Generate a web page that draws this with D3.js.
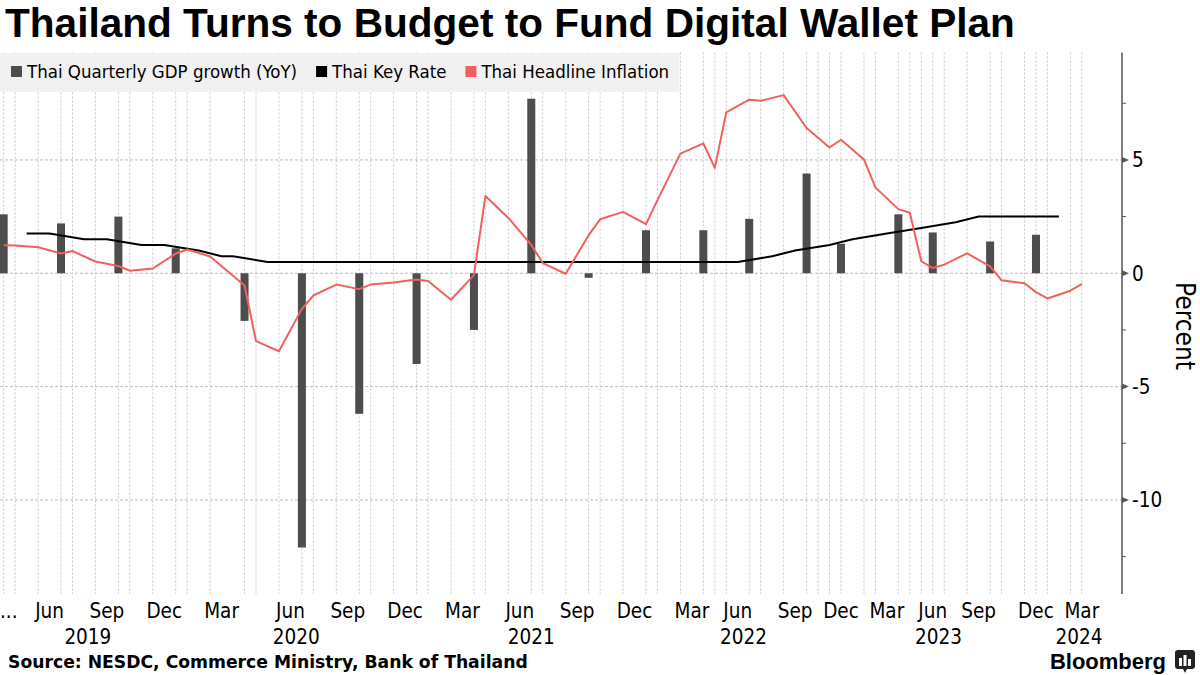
<!DOCTYPE html>
<html>
<head>
<meta charset="utf-8">
<script src="https://cdn.jsdelivr.net/npm/d3@7"></script>
<style>
    body { margin: 0; background: #fff; }
    svg { display: block; }
</style>
</head>
<body>
<svg id="chart" width="1200" height="675"></svg>
<script>
// Thai headline inflation, YoY %, one reading per month (dated at month end)
const cpiMonths = [
    "2019-03", "2019-04", "2019-05", "2019-06", "2019-07", "2019-08", "2019-09", "2019-10", "2019-11", "2019-12",
    "2020-01", "2020-02", "2020-03", "2020-04", "2020-05", "2020-06", "2020-07", "2020-08", "2020-09", "2020-10", "2020-11", "2020-12",
    "2021-01", "2021-02", "2021-03", "2021-04", "2021-05", "2021-06", "2021-07", "2021-08", "2021-09", "2021-10", "2021-11", "2021-12",
    "2022-01", "2022-02", "2022-03", "2022-04", "2022-05", "2022-06", "2022-07", "2022-08", "2022-09", "2022-10", "2022-11", "2022-12",
    "2023-01", "2023-02", "2023-03", "2023-04", "2023-05", "2023-06", "2023-07", "2023-08", "2023-09", "2023-10", "2023-11", "2023-12",
    "2024-01", "2024-02", "2024-03"
];
const cpiValues = [
    1.24, 1.23, 1.15, 0.87, 0.98, 0.52, 0.32, 0.11, 0.21, 0.87,
    1.05, 0.74, -0.54, -2.99, -3.44, -1.57, -0.98, -0.50, -0.70, -0.50, -0.41, -0.27,
    -0.34, -1.17, -0.08, 3.41, 2.44, 1.25, 0.45, -0.02, 1.68, 2.38, 2.71, 2.17,
    3.23, 5.28, 5.73, 4.65, 7.10, 7.66, 7.61, 7.86, 6.41, 5.98, 5.55, 5.89,
    5.02, 3.79, 2.83, 2.67, 0.53, 0.23, 0.38, 0.88, 0.30, -0.31, -0.44, -0.83,
    -1.11, -0.77, -0.47
];

// quarterly GDP growth, YoY %
const gdpQuarters = [
    "2019-03", "2019-06", "2019-09", "2019-12", "2020-03", "2020-06", "2020-09", "2020-12",
    "2021-03", "2021-06", "2021-09", "2021-12", "2022-03", "2022-06", "2022-09", "2022-12",
    "2023-03", "2023-06", "2023-09", "2023-12"
];
const gdpValues = [
    2.6, 2.2, 2.5, 1.1, -2.1, -12.1, -6.2, -4.0,
    -2.5, 7.7, -0.2, 1.9, 1.9, 2.4, 4.4, 1.3,
    2.6, 1.8, 1.4, 1.7
];

// policy rate at each MPC decision
const rateDates = [
    "2019-05-08", "2019-06-26", "2019-08-07", "2019-09-25", "2019-11-06", "2019-12-18",
    "2020-02-05", "2020-03-20", "2020-03-25", "2020-05-20", "2020-06-24", "2020-08-05", "2020-09-23", "2020-11-04", "2020-12-23",
    "2021-02-03", "2021-03-24", "2021-05-05", "2021-06-23", "2021-08-04", "2021-09-29", "2021-11-10", "2021-12-22",
    "2022-02-09", "2022-03-30", "2022-06-08", "2022-08-10", "2022-09-28", "2022-11-30",
    "2023-01-25", "2023-03-29", "2023-05-31", "2023-08-02", "2023-09-27", "2023-11-29",
    "2024-02-07"
];
const rateValues = [
    1.75, 1.75, 1.5, 1.5, 1.25, 1.25,
    1.0, 0.75, 0.75, 0.5, 0.5, 0.5, 0.5, 0.5, 0.5,
    0.5, 0.5, 0.5, 0.5, 0.5, 0.5, 0.5, 0.5,
    0.5, 0.5, 0.5, 0.75, 1.0, 1.25,
    1.5, 1.75, 2.0, 2.25, 2.5, 2.5,
    2.5
];

const tickMonths = [
    "2019-06", "2019-09", "2019-12", "2020-03", "2020-06", "2020-09", "2020-12",
    "2021-03", "2021-06", "2021-09", "2021-12", "2022-03", "2022-06", "2022-09", "2022-12",
    "2023-03", "2023-06", "2023-09", "2023-12", "2024-03"
];
const yearLabels = ["2019", "2020", "2021", "2022", "2023", "2024"];
const yTicks = [5, 0, -5, -10];
const yMinorTicks = [7.5, 2.5, -2.5, -7.5, -12.5];
const legendLabels = ["Thai Quarterly GDP growth (YoY)", "Thai Key Rate", "Thai Headline Inflation"];

const parseMonth = d3.utcParse("%Y-%m");
const fmtDay = d3.utcFormat("%Y-%m-%d");
const fmtMon = d3.utcFormat("%b");

/** month "YYYY-MM" -> last day of that month */
function monthEnd(m) {
    return fmtDay(d3.utcDay.offset(d3.utcMonth.offset(parseMonth(m), 1), -1));
}

/** Bloomberg style chart on a category (not time) axis */
class WalletChart {
    constructor(svg) {
        this.svg = svg;
        this.plotLeft = 0;
        this.plotRight = 1122;
        this.plotTop = 52.5;
        this.plotBottom = 594;
        this.colors = {gdp: "#4d4d4d", rate: "#000000", cpi: "#f0605e"};
        this.axisFont = "'DejaVu Sans Condensed', 'DejaVu Sans', sans-serif";

        this.cpi = cpiMonths.map((m, i) => ({key: monthEnd(m), value: cpiValues[i]}));
        this.gdp = gdpQuarters.map((m, i) => ({key: monthEnd(m), value: gdpValues[i]}));
        this.rate = rateDates.map((d, i) => ({key: d, value: rateValues[i]}));

        // every date of every series is one slot on the axis
        this.categories = Array.from(new Set([
            ...this.cpi.map(d => d.key), ...this.gdp.map(d => d.key), ...this.rate.map(d => d.key)
        ])).sort();
        this.slot = new Map(this.categories.map((c, i) => [c, i]));

        this.x = d3.scaleLinear()
            .domain([-0.32, this.categories.length - 1 + 3.5])
            .range([this.plotLeft, this.plotRight]);
        this.y = d3.scaleLinear()
            .domain([-14.15, 9.74])
            .range([this.plotBottom, this.plotTop]);
    }

    draw() {
        this.drawGrid();
        this.drawLegend();
        this.drawBars();
        this.drawLines();
        this.drawYAxis();
        this.drawXAxis();
        this.drawText();
    }

    drawGrid() {
        let g = this.svg.append("g");
        let gridKeys = Array.from(new Set([...this.cpi.map(d => d.key), ...this.gdp.map(d => d.key)]));
        g.selectAll(".vgrid")
            .data(gridKeys)
            .enter()
            .append("line")
            .attr("x1", d => this.x(this.slot.get(d)))
            .attr("x2", d => this.x(this.slot.get(d)))
            .attr("y1", this.plotTop)
            .attr("y2", this.plotBottom)
            .attr("stroke", "#c8c8c8")
            .attr("stroke-width", 1)
            .attr("stroke-dasharray", "2,2");
        g.selectAll(".hgrid")
            .data(yTicks)
            .enter()
            .append("line")
            .attr("x1", this.plotLeft)
            .attr("x2", this.plotRight)
            .attr("y1", d => this.y(d))
            .attr("y2", d => this.y(d))
            .attr("stroke", "#bdbdbd")
            .attr("stroke-width", 1)
            .attr("stroke-dasharray", "3,2");
    }

    drawLegend() {
        let g = this.svg.append("g");
        let bg = g.append("rect")
            .attr("x", 0).attr("y", 53)
            .attr("height", 39)
            .attr("fill", "#efefef")
            .attr("opacity", 0.9);
        let cols = [this.colors.gdp, this.colors.rate, this.colors.cpi];
        let cx = 11;
        legendLabels.forEach((label, i) => {
            g.append("rect")
                .attr("x", cx).attr("y", 66)
                .attr("width", 11).attr("height", 11)
                .attr("fill", cols[i]);
            let t = g.append("text")
                .attr("x", cx + 16).attr("y", 78)
                .attr("font-family", this.axisFont)
                .attr("font-size", 18.5)
                .attr("fill", "#000")
                .text(label);
            cx = cx + 16 + t.node().getComputedTextLength() + 19;
        });
        bg.attr("width", cx - 9);
    }

    drawBars() {
        let y0 = this.y(0);
        this.svg.append("g")
            .selectAll("rect")
            .data(this.gdp)
            .enter()
            .append("rect")
            .attr("x", d => this.x(this.slot.get(d.key)) - 4)
            .attr("width", 8)
            .attr("y", d => Math.min(this.y(d.value), y0))
            .attr("height", d => Math.abs(this.y(d.value) - y0))
            .attr("fill", this.colors.gdp);
    }

    drawLines() {
        let line = d3.line()
            .x(d => this.x(this.slot.get(d.key)))
            .y(d => this.y(d.value));
        this.svg.append("path")
            .datum(this.rate)
            .attr("d", line)
            .attr("fill", "none")
            .attr("stroke", this.colors.rate)
            .attr("stroke-width", 2);
        this.svg.append("path")
            .datum(this.cpi)
            .attr("d", line)
            .attr("fill", "none")
            .attr("stroke", this.colors.cpi)
            .attr("stroke-width", 2)
            .attr("stroke-linejoin", "round");
    }

    drawYAxis() {
        let g = this.svg.append("g");
        let ax = this.plotRight;
        g.append("line")
            .attr("x1", ax).attr("x2", ax)
            .attr("y1", this.plotTop).attr("y2", this.plotBottom)
            .attr("stroke", "#555").attr("stroke-width", 1.5);
        g.selectAll(".minor")
            .data(yMinorTicks)
            .enter()
            .append("line")
            .attr("x1", ax).attr("x2", ax + 4)
            .attr("y1", d => this.y(d)).attr("y2", d => this.y(d))
            .attr("stroke", "#555");
        g.selectAll(".major")
            .data(yTicks)
            .enter()
            .append("path")
            .attr("d", d => `M${ax},${this.y(d) - 3}L${ax + 7},${this.y(d)}L${ax},${this.y(d) + 3}Z`)
            .attr("fill", "#555");
        g.selectAll(".lab")
            .data(yTicks)
            .enter()
            .append("text")
            .attr("x", ax + 10)
            .attr("y", d => this.y(d))
            .attr("dy", "0.36em")
            .attr("font-family", this.axisFont)
            .attr("font-size", 20.5)
            .text(d => d);
        g.append("text")
            .attr("transform", "translate(1176,326) rotate(90)")
            .attr("text-anchor", "middle")
            .attr("font-family", this.axisFont)
            .attr("font-size", 26)
            .text("Percent");
    }

    drawXAxis() {
        let g = this.svg.append("g")
            .attr("font-family", this.axisFont)
            .attr("font-size", 20.5)
            .attr("fill", "#000");
        // months are centred on the first slot that falls inside them
        g.selectAll(".month")
            .data(tickMonths)
            .enter()
            .append("text")
            .attr("x", m => this.x(this.categories.findIndex(c => c.startsWith(m))))
            .attr("y", 618)
            .attr("text-anchor", "middle")
            .text(m => fmtMon(parseMonth(m)));
        g.append("text").attr("x", 0).attr("y", 618).text("...");

        let lastOf = yr => {
            let idx = -1;
            this.categories.forEach((c, i) => { if (c.startsWith(yr)) idx = i; });
            return idx;
        };
        g.selectAll(".year")
            .data(yearLabels)
            .enter()
            .append("text")
            .attr("x", (yr, i) => {
                let a = i == 0 ? this.plotLeft : this.x(lastOf(String(+yr - 1)));
                let b = i == yearLabels.length - 1 ? this.plotRight : this.x(lastOf(yr));
                return (a + b) / 2;
            })
            .attr("y", 644)
            .attr("text-anchor", "middle")
            .text(yr => yr);
    }

    fitText(sel, width) {
        let size = parseFloat(sel.attr("font-size"));
        let w = sel.node().getComputedTextLength();
        sel.attr("font-size", size * width / w);
    }

    drawText() {
        let title = this.svg.append("text")
            .attr("x", 5).attr("y", 37)
            .attr("font-family", "'Liberation Sans', Arial, sans-serif")
            .attr("font-weight", "bold")
            .attr("font-size", 36)
            .text("Thailand Turns to Budget to Fund Digital Wallet Plan");
        this.fitText(title, 1010);

        let src = this.svg.append("text")
            .attr("x", 8).attr("y", 668)
            .attr("font-family", "'DejaVu Sans', sans-serif")
            .attr("font-weight", "bold")
            .attr("font-size", 16)
            .text("Source: NESDC, Commerce Ministry, Bank of Thailand");
        this.fitText(src, 520);

        this.svg.append("text")
            .attr("x", 1166).attr("y", 669)
            .attr("text-anchor", "end")
            .attr("font-family", "'Liberation Sans', Arial, sans-serif")
            .attr("font-weight", "bold")
            .attr("font-size", 22)
            .text("Bloomberg");
        let logo = this.svg.append("g").attr("transform", "translate(1175,650)");
        logo.append("rect").attr("width", 20).attr("height", 19).attr("rx", 3).attr("fill", "#222");
        logo.append("path").attr("d", "M8,19L10,23L12,19Z").attr("fill", "#222");
        [[4, 8, 3, 8], [8.5, 5, 3, 11], [13, 9, 3, 7]].forEach(b => {
            logo.append("rect").attr("x", b[0]).attr("y", b[1]).attr("width", b[2]).attr("height", b[3]).attr("fill", "#fff");
        });
    }
}

let chart = new WalletChart(d3.select("#chart"));
chart.draw();
</script>
</body>
</html>
